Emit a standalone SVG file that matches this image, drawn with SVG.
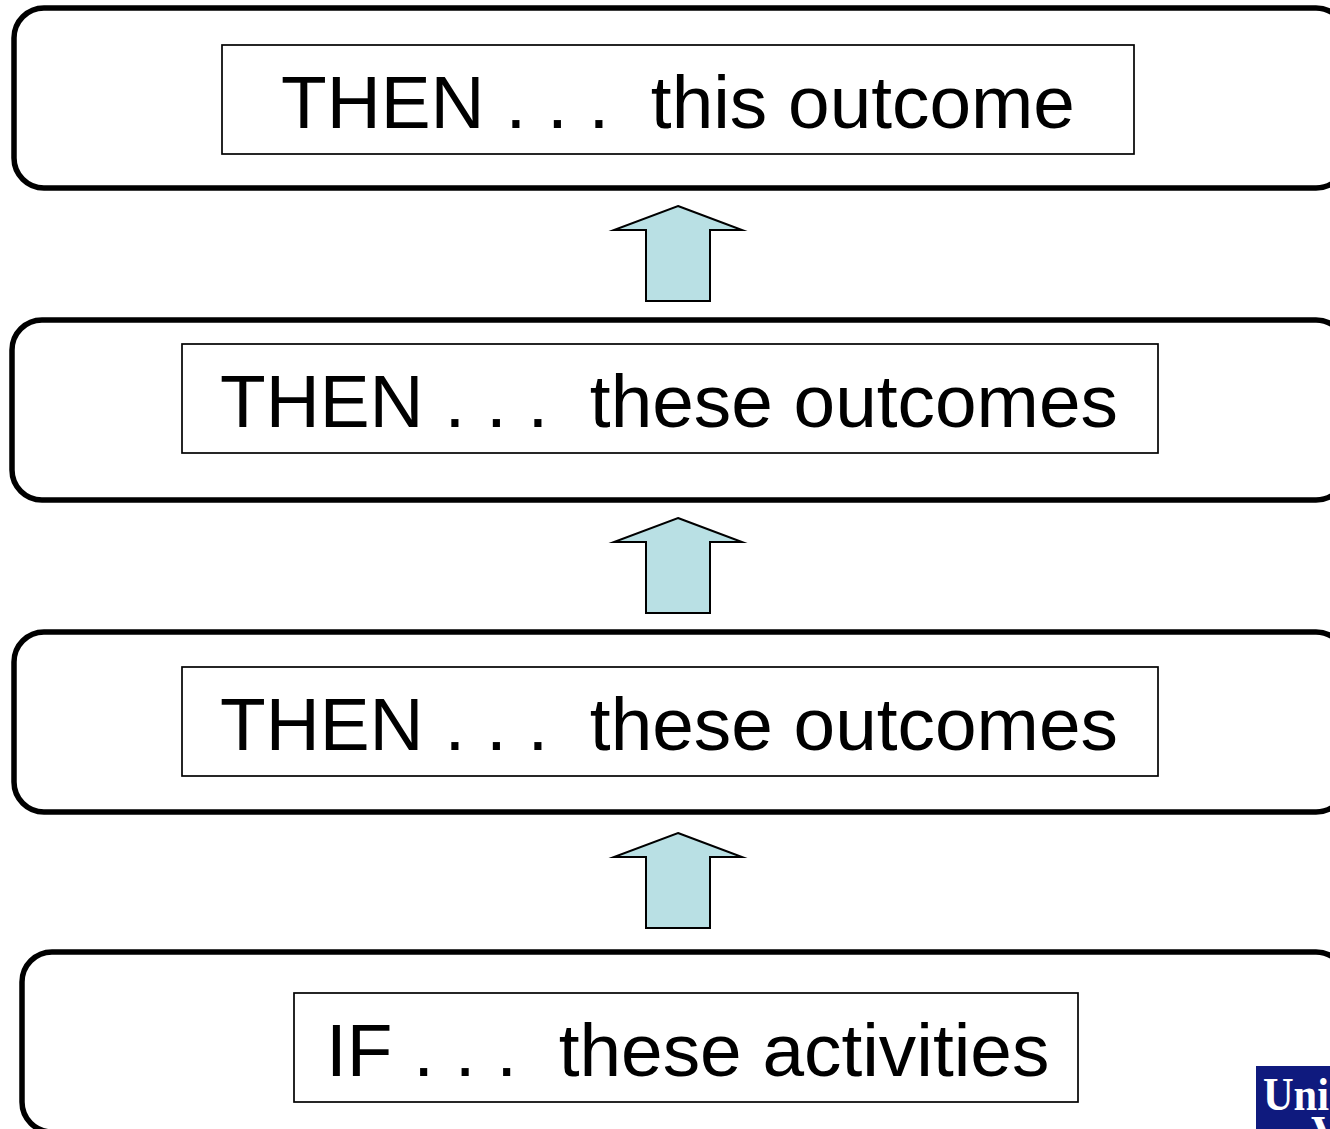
<svg xmlns="http://www.w3.org/2000/svg" width="1330" height="1129" viewBox="0 0 1330 1129">
<style>
.outer{fill:#fff;stroke:#000;stroke-width:5.5}
.inner{fill:#fff;stroke:#000;stroke-width:1.7}
.arrow{fill:#b9e0e4;stroke:#000;stroke-width:2;stroke-miterlimit:10}
.t{font-family:"Liberation Sans",Arial,sans-serif;font-size:74.8px;fill:#000;white-space:pre}
.logo{font-family:"Liberation Serif","DejaVu Serif",serif;font-weight:bold;fill:#fff}
</style>
<rect width="1330" height="1129" fill="#fff"/>
<g id="connectors">
<path class="arrow" d="M678 206L742 230H710V301H646V230H614Z"/>
<path class="arrow" d="M678 518L742 542H710V613H646V542H614Z"/>
<path class="arrow" d="M678 833L742 857H710V928H646V857H614Z"/>
</g>
<g id="node-outcome">
<rect class="outer" x="14" y="8" width="1332" height="180" rx="30"/>
<rect class="inner" x="222" y="45" width="912" height="109"/>
<text class="t" x="281" y="127.5" xml:space="preserve">THEN . . .  this outcome</text>
</g>
<g id="node-outcomes-upper">
<rect class="outer" x="12" y="320" width="1334" height="180" rx="30"/>
<rect class="inner" x="182" y="344" width="976" height="109"/>
<text class="t" x="220" y="426.5" xml:space="preserve">THEN . . .  these outcomes</text>
</g>
<g id="node-outcomes-lower">
<rect class="outer" x="14" y="632" width="1332" height="180" rx="30"/>
<rect class="inner" x="182" y="667" width="976" height="109"/>
<text class="t" x="220" y="749.5" xml:space="preserve">THEN . . .  these outcomes</text>
</g>
<g id="node-activities">
<rect class="outer" x="22" y="952" width="1324" height="180" rx="30"/>
<rect class="inner" x="294" y="993" width="784" height="109"/>
<text class="t" x="326" y="1075.5" xml:space="preserve">IF . . .  these activities</text>
</g>
<g id="logo">
<rect x="1256" y="1066" width="80" height="70" fill="#0f1a7e"/>
<text class="logo" x="1263" y="1110" font-size="46" textLength="66" lengthAdjust="spacingAndGlyphs">Uni</text>
<text class="logo" x="1311" y="1148" font-size="46">V</text>
</g>
</svg>
